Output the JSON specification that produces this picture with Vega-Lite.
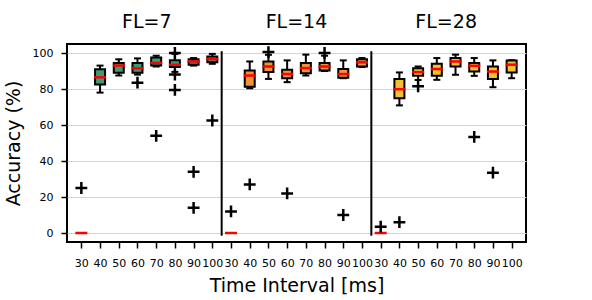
{
  "$schema": "https://vega.github.io/schema/vega-lite/v6.json",
  "width": 459,
  "height": 198,
  "autosize": {"type": "none"},
  "padding": {"left": 67, "top": 44, "right": 66, "bottom": 58},
  "background": "white",
  "config": {
    "view": {"stroke": "black", "strokeWidth": 2},
    "font": "DejaVu Sans",
    "axis": {"labelFont": "DejaVu Sans", "titleFont": "DejaVu Sans", "labelColor": "black", "titleColor": "black", "tickColor": "black", "titleFontWeight": "normal"}
  },
  "datasets": {
    "boxes": [
      {"pos": 1, "fl": "FL=7", "lo": 0, "q1": 0, "med": 0, "q3": 0, "hi": 0},
      {"pos": 2, "fl": "FL=7", "lo": 78, "q1": 82.5, "med": 86.5, "q3": 91, "hi": 93},
      {"pos": 3, "fl": "FL=7", "lo": 87.5, "q1": 89, "med": 93, "q3": 94.5, "hi": 96.5},
      {"pos": 4, "fl": "FL=7", "lo": 88, "q1": 89, "med": 91.5, "q3": 94.5, "hi": 97},
      {"pos": 5, "fl": "FL=7", "lo": 92.5, "q1": 93, "med": 94.5, "q3": 97.5, "hi": 98.5},
      {"pos": 6, "fl": "FL=7", "lo": 89.5, "q1": 92.2, "med": 93.5, "q3": 96, "hi": 99.5},
      {"pos": 7, "fl": "FL=7", "lo": 93, "q1": 93.5, "med": 95.3, "q3": 96.5, "hi": 97.2},
      {"pos": 8, "fl": "FL=7", "lo": 94, "q1": 94.8, "med": 96.6, "q3": 98, "hi": 99.5},
      {"pos": 9, "fl": "FL=14", "lo": 0, "q1": 0, "med": 0, "q3": 0, "hi": 0},
      {"pos": 10, "fl": "FL=14", "lo": 80.4, "q1": 81.3, "med": 87.5, "q3": 90.3, "hi": 95.3},
      {"pos": 11, "fl": "FL=14", "lo": 85.6, "q1": 89.4, "med": 92.5, "q3": 95.3, "hi": 99},
      {"pos": 12, "fl": "FL=14", "lo": 83.8, "q1": 86, "med": 88.3, "q3": 90.7, "hi": 95.9},
      {"pos": 13, "fl": "FL=14", "lo": 87.5, "q1": 88.8, "med": 91.6, "q3": 94.4, "hi": 99.1},
      {"pos": 14, "fl": "FL=14", "lo": 90, "q1": 90.3, "med": 92.5, "q3": 94.4, "hi": 98.5},
      {"pos": 15, "fl": "FL=14", "lo": 86, "q1": 86.2, "med": 88.3, "q3": 91.1, "hi": 95.9},
      {"pos": 16, "fl": "FL=14", "lo": 92.2, "q1": 92.5, "med": 94.8, "q3": 96.5, "hi": 97.2},
      {"pos": 17, "fl": "FL=28", "lo": 0, "q1": 0, "med": 0, "q3": 0, "hi": 0},
      {"pos": 18, "fl": "FL=28", "lo": 70.9, "q1": 74.8, "med": 79.9, "q3": 85.6, "hi": 89.2},
      {"pos": 19, "fl": "FL=28", "lo": 85, "q1": 87.3, "med": 89.4, "q3": 91.5, "hi": 92.5},
      {"pos": 20, "fl": "FL=28", "lo": 85.1, "q1": 87.3, "med": 91.1, "q3": 94, "hi": 97.2},
      {"pos": 21, "fl": "FL=28", "lo": 87.9, "q1": 92.5, "med": 95.3, "q3": 97.2, "hi": 99.1},
      {"pos": 22, "fl": "FL=28", "lo": 87.3, "q1": 89.7, "med": 92.9, "q3": 94.4, "hi": 97.2},
      {"pos": 23, "fl": "FL=28", "lo": 81, "q1": 85.5, "med": 89.7, "q3": 92.5, "hi": 95.9},
      {"pos": 24, "fl": "FL=28", "lo": 86, "q1": 89.2, "med": 93.5, "q3": 95.9, "hi": 96}
    ],
    "outliers": [
      {"pos": 1, "v": 25},
      {"pos": 4, "v": 83.5},
      {"pos": 5, "v": 54},
      {"pos": 6, "v": 100},
      {"pos": 6, "v": 88},
      {"pos": 6, "v": 79.5},
      {"pos": 7, "v": 34},
      {"pos": 7, "v": 14},
      {"pos": 8, "v": 62.5},
      {"pos": 9, "v": 12},
      {"pos": 10, "v": 27},
      {"pos": 11, "v": 100.5},
      {"pos": 12, "v": 22},
      {"pos": 14, "v": 100},
      {"pos": 15, "v": 10},
      {"pos": 17, "v": 3.5},
      {"pos": 18, "v": 6},
      {"pos": 19, "v": 81.5},
      {"pos": 22, "v": 53.4},
      {"pos": 23, "v": 33.5}
    ],
    "seps": [
      {"pos": 8.5, "top": 101, "bottom": -1.5},
      {"pos": 16.5, "top": 101, "bottom": -1.5}
    ],
    "titles": [
      {"pos": 4.5, "y": 117, "label": "FL=7"},
      {"pos": 12.5, "y": 117, "label": "FL=14"},
      {"pos": 20.5, "y": 117, "label": "FL=28"}
    ]
  },
  "encoding": {
    "x": {
      "field": "pos", "type": "quantitative",
      "scale": {"domain": [0.5, 24.5], "nice": false, "zero": false},
      "axis": {
        "values": [1,2,3,4,5,6,7,8,9,10,11,12,13,14,15,16,17,18,19,20,21,22,23,24],
        "labelExpr": "((datum.value - 1) % 8) * 10 + 30",
        "labelOverlap": false, "labelFlush": false,
        "labelFontSize": 11, "labelPadding": 9,
        "tickSize": 6, "tickWidth": 1.5, "domain": false, "grid": false,
        "title": "Time Interval [ms]", "titleFontSize": 19, "titlePadding": 8
      }
    },
    "y": {
      "type": "quantitative",
      "scale": {"domain": [-5, 105], "nice": false, "zero": false},
      "axis": {
        "values": [0, 20, 40, 60, 80, 100],
        "labelOverlap": false,
        "labelFontSize": 11, "labelPadding": 8,
        "tickSize": 6, "tickWidth": 1.5, "domain": false,
        "grid": true, "gridColor": "#d4d4d4", "gridWidth": 1,
        "title": "Accuracy (%)", "titleFontSize": 19, "titlePadding": 9
      }
    }
  },
  "layer": [
    {
      "data": {"name": "seps"},
      "mark": {"type": "rule", "color": "black", "strokeWidth": 2},
      "encoding": {
        "y": {"field": "top"},
        "y2": {"field": "bottom"}
      }
    },
    {
      "data": {"name": "boxes"},
      "mark": {"type": "rule", "color": "black", "strokeWidth": 2},
      "encoding": {
        "y": {"field": "lo"},
        "y2": {"field": "hi"}
      }
    },
    {
      "data": {"name": "boxes"},
      "mark": {"type": "tick", "orient": "horizontal", "color": "black", "size": 7, "thickness": 2, "opacity": 1},
      "encoding": {"y": {"field": "lo"}}
    },
    {
      "data": {"name": "boxes"},
      "mark": {"type": "tick", "orient": "horizontal", "color": "black", "size": 7, "thickness": 2, "opacity": 1},
      "encoding": {"y": {"field": "hi"}}
    },
    {
      "data": {"name": "boxes"},
      "mark": {"type": "bar", "width": 10, "stroke": "black", "strokeWidth": 2, "opacity": 1},
      "encoding": {
        "y": {"field": "q1"},
        "y2": {"field": "q3"},
        "color": {
          "field": "fl", "type": "nominal",
          "scale": {"domain": ["FL=7", "FL=14", "FL=28"], "range": ["#3b9c74", "#f29237", "#f7c12b"]},
          "legend": null
        }
      }
    },
    {
      "data": {"name": "boxes"},
      "mark": {"type": "tick", "orient": "horizontal", "color": "#ff0000", "size": 12, "thickness": 2.5, "opacity": 1},
      "encoding": {"y": {"field": "med"}}
    },
    {
      "data": {"name": "outliers"},
      "mark": {"type": "point", "shape": "M-1,0L1,0M0,-1L0,1", "filled": false, "stroke": "black", "strokeWidth": 2.5, "size": 140, "opacity": 1},
      "encoding": {"y": {"field": "v"}}
    },
    {
      "data": {"name": "titles"},
      "mark": {"type": "text", "fontSize": 19, "color": "black", "baseline": "middle", "align": "center", "clip": false},
      "encoding": {
        "y": {"field": "y"},
        "text": {"field": "label"}
      }
    }
  ]
}
